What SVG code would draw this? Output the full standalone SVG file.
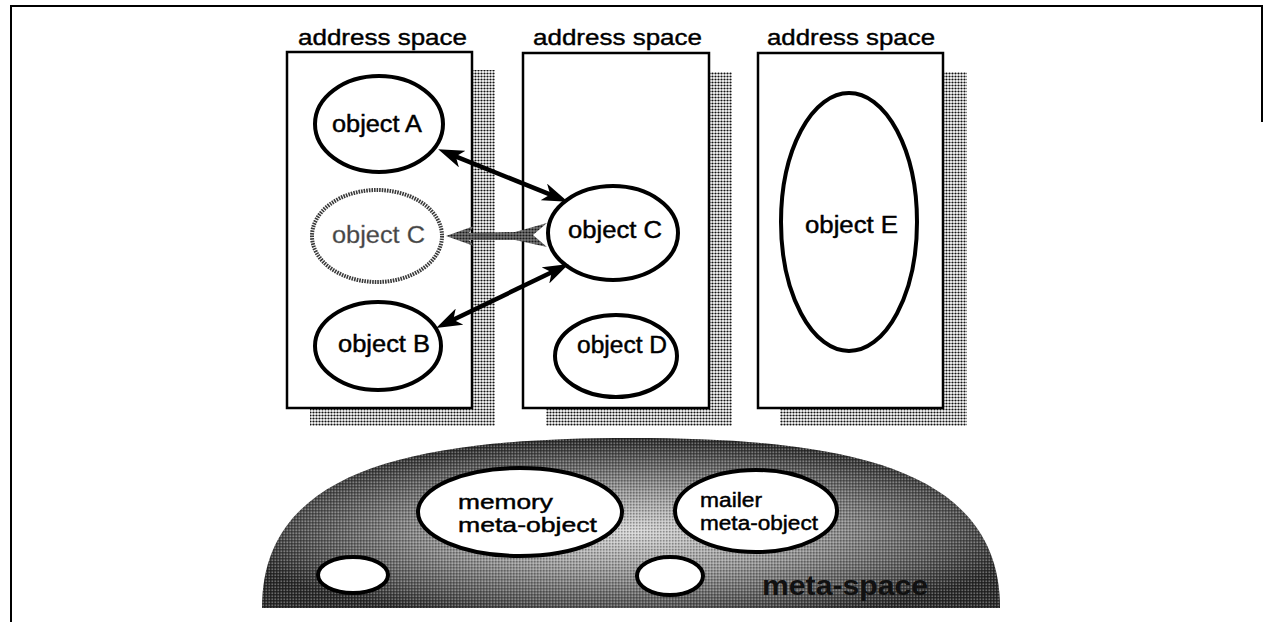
<svg xmlns="http://www.w3.org/2000/svg" width="1264" height="622" viewBox="0 0 1264 622">
  <defs>
    <style>
      .lbl { font-family: "Liberation Sans", Arial, sans-serif; font-size: 22px; fill: #000; stroke: #000; stroke-width: 0.4; }
      .obj { font-family: "Liberation Sans", Arial, sans-serif; font-size: 23px; fill: #000; stroke: #000; stroke-width: 0.45; }
      .meta { font-family: "Liberation Sans", Arial, sans-serif; font-size: 21px; fill: #000; stroke: #000; stroke-width: 0.45; }
      .box { fill: #fff; stroke: #000; stroke-width: 2.5; }
      .shadow { fill: url(#dots); }
      .ell { fill: #fff; stroke: #000; stroke-width: 4; }
      .frame { fill: none; stroke: #000; stroke-width: 2; }
      .link { fill: none; stroke: #000; stroke-width: 4.5; marker-start: url(#head); marker-end: url(#head); }
    </style>
    <!-- halftone dot fill used by the drop shadows -->
    <pattern id="dots" width="3" height="3" patternUnits="userSpaceOnUse">
      <rect width="3" height="3" fill="#fff"/>
      <circle cx="1.5" cy="1.5" r="1.1" fill="#111"/>
    </pattern>
    <!-- grey hatching for the faded reference -->
    <pattern id="greydots" width="3" height="3" patternUnits="userSpaceOnUse">
      <rect width="3" height="3" fill="#7a7a7a"/>
      <circle cx="1.5" cy="1.5" r="1.1" fill="#1a1a1a"/>
    </pattern>
    <!-- shading of the meta-space dome: light in the middle, dark at the rim -->
    <radialGradient id="domeShade" cx="0.5" cy="0.55" r="0.55">
      <stop offset="0" stop-color="#d6d6d6"/>
      <stop offset="0.45" stop-color="#969696"/>
      <stop offset="0.8" stop-color="#555"/>
      <stop offset="1" stop-color="#2a2a2a"/>
    </radialGradient>
    <pattern id="halftone" width="3" height="3" patternUnits="userSpaceOnUse">
      <rect width="3" height="3" fill="none"/>
      <rect x="0" y="0" width="1.5" height="1.5" fill="#000" opacity="0.3"/>
      <rect x="1.5" y="1.5" width="1.5" height="1.5" fill="#fff" opacity="0.3"/>
    </pattern>
    <marker id="head" viewBox="0 0 26 18" refX="14" refY="9" markerWidth="26" markerHeight="18" markerUnits="userSpaceOnUse" orient="auto-start-reverse">
      <path d="M0,0 L26,9 L0,18 L7,9 Z" fill="#000"/>
    </marker>
  </defs>

  <rect width="1264" height="622" fill="#fff"/>

  <!-- outer frame (open at the bottom and lower right) -->
  <path class="frame" d="M11,622 L11,6 L1262,6 L1262,122"/>

  <!-- address space 1 -->
  <g id="space1">
    <rect class="shadow" x="310" y="70" width="185" height="356"/>
    <rect class="box" x="287" y="52" width="185" height="356"/>
    <text class="lbl" x="298" y="45" textLength="169" lengthAdjust="spacingAndGlyphs">address space</text>
  </g>

  <!-- address space 2 -->
  <g id="space2">
    <rect class="shadow" x="546" y="72" width="186" height="354"/>
    <rect class="box" x="523" y="53" width="186" height="355"/>
    <text class="lbl" x="533" y="45" textLength="169" lengthAdjust="spacingAndGlyphs">address space</text>
  </g>

  <!-- address space 3 -->
  <g id="space3">
    <rect class="shadow" x="780" y="72" width="187" height="354"/>
    <rect class="box" x="758" y="53" width="185" height="355"/>
    <text class="lbl" x="767" y="45" textLength="168" lengthAdjust="spacingAndGlyphs">address space</text>
  </g>

  <!-- objects -->
  <g id="objA">
    <ellipse class="ell" cx="379" cy="124" rx="64" ry="48"/>
    <text class="obj" x="332" y="132" textLength="90" lengthAdjust="spacingAndGlyphs">object A</text>
  </g>
  <g id="objCghost">
    <ellipse cx="377" cy="236" rx="65" ry="46" fill="#fff" stroke="#3a3a3a" stroke-width="4" stroke-dasharray="1.6 1"/>
    <text class="obj" x="332" y="243" textLength="93" lengthAdjust="spacingAndGlyphs" style="fill:#444; stroke:#777; stroke-width:0.3">object C</text>
  </g>
  <g id="objB">
    <ellipse class="ell" cx="378" cy="346" rx="63" ry="44"/>
    <text class="obj" x="338" y="352" textLength="92" lengthAdjust="spacingAndGlyphs">object B</text>
  </g>
  <g id="objC">
    <ellipse class="ell" cx="613" cy="233" rx="65" ry="47"/>
    <text class="obj" x="568" y="238" textLength="94" lengthAdjust="spacingAndGlyphs">object C</text>
  </g>
  <g id="objD">
    <ellipse class="ell" cx="616" cy="356" rx="61" ry="41"/>
    <text class="obj" x="577" y="353" textLength="90" lengthAdjust="spacingAndGlyphs">object D</text>
  </g>
  <g id="objE">
    <ellipse class="ell" cx="849" cy="222" rx="68" ry="129"/>
    <text class="obj" x="805" y="233" textLength="93" lengthAdjust="spacingAndGlyphs">object E</text>
  </g>

  <!-- references between objects -->
  <g id="connectors">
    <path class="link" d="M449.3,153.8 L556.7,197.2"/>
    <path class="link" d="M447,322.7 L558,269.3"/>
    <!-- faded reference to the migrated copy -->
    <polygon fill="url(#greydots)" points="446,236 474,226 469,233 515,232 547,223 533,235 547,247 515,240 469,240 474,246"/>
  </g>

  <!-- meta-space -->
  <g id="metaspace">
    <path d="M262,608 C262,470 410,438 631,438 C852,438 1000,470 1000,608 Z" fill="url(#domeShade)"/>
    <path d="M262,608 C262,470 410,438 631,438 C852,438 1000,470 1000,608 Z" fill="url(#halftone)"/>
    <text x="762" y="595" textLength="166" lengthAdjust="spacingAndGlyphs" style="font-family:'Liberation Sans', Arial, sans-serif; font-size:28px; font-weight:bold; fill:#111">meta-space</text>
  </g>

  <g id="memoryMeta">
    <ellipse class="ell" cx="520" cy="512" rx="102" ry="44"/>
    <text class="meta" x="458" y="509" textLength="95" lengthAdjust="spacingAndGlyphs">memory</text>
    <text class="meta" x="458" y="532" textLength="139" lengthAdjust="spacingAndGlyphs">meta-object</text>
  </g>
  <g id="mailerMeta">
    <ellipse class="ell" cx="756" cy="511" rx="81" ry="41"/>
    <text class="meta" x="700" y="507" textLength="62" lengthAdjust="spacingAndGlyphs" style="font-size:20px">mailer</text>
    <text class="meta" x="700" y="530" textLength="118" lengthAdjust="spacingAndGlyphs" style="font-size:20px">meta-object</text>
  </g>
  <g id="metaSmall1">
    <ellipse class="ell" cx="353" cy="575" rx="35" ry="18"/>
  </g>
  <g id="metaSmall2">
    <ellipse class="ell" cx="670" cy="576" rx="33" ry="19"/>
  </g>
</svg>
